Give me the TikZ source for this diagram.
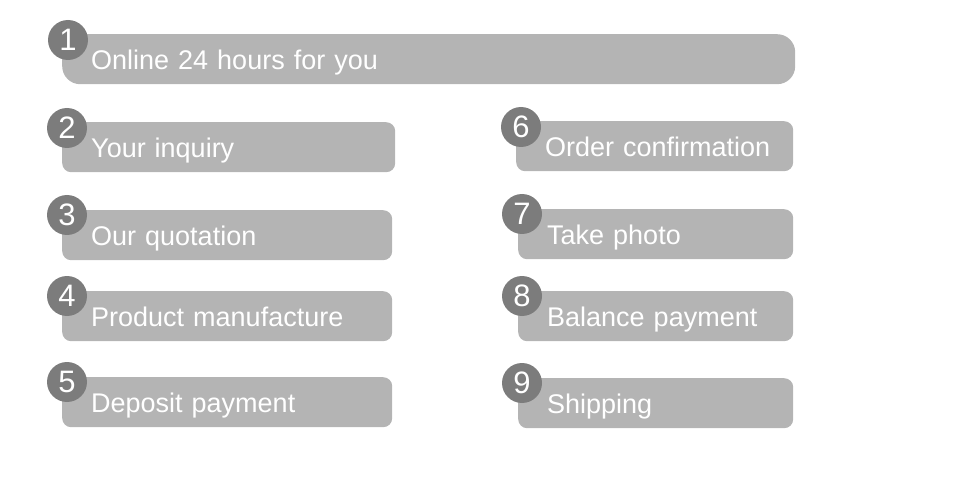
\documentclass[tikz,border=0pt]{standalone}
\usepackage{fontspec}
\setmainfont{Liberation Sans}
\definecolor{boxgray}{HTML}{B4B4B4}
\definecolor{numgray}{HTML}{7C7C7C}
\begin{document}
\begin{tikzpicture}[x=1pt,y=-1pt,
  stepbox/.style={fill=boxgray, rounded corners=9pt, minimum height=50pt, anchor=north west,
     inner xsep=29pt, inner ysep=0pt, align=left, text=white, text height=22.5pt, text depth=1.5pt,
     font=\fontsize{27}{27}\selectfont},
  numcirc/.style={circle, fill=numgray, minimum size=40pt, inner sep=0pt, text=white,
     font=\fontsize{31}{31}\selectfont}]
\useasboundingbox (0,0) rectangle (954,492);
\node[stepbox, rounded corners=18pt, text width=675pt] (b1) at (62,34) {\mbox{Online 24 hours for you}};
\node[stepbox, text width=275pt] (b2) at (62,122) {\mbox{Your inquiry}};
\node[stepbox, text width=272pt] (b3) at (62,210) {\mbox{Our quotation}};
\node[stepbox, text width=272pt] (b4) at (62,291) {\mbox{Product manufacture}};
\node[stepbox, text width=272pt] (b5) at (62,377) {\mbox{Deposit payment}};
\node[stepbox, text width=219pt] (b6) at (516,121) {\mbox{Order confirmation}};
\node[stepbox, text width=217pt] (b7) at (518,209) {\mbox{Take photo}};
\node[stepbox, text width=217pt] (b8) at (518,291) {\mbox{Balance payment}};
\node[stepbox, text width=217pt] (b9) at (518,378) {\mbox{Shipping}};
\node[numcirc] (c1) at (68,40) {1};
\node[numcirc] (c2) at (67,128) {2};
\node[numcirc] (c3) at (67,215) {3};
\node[numcirc] (c4) at (67,296) {4};
\node[numcirc] (c5) at (67,382) {5};
\node[numcirc] (c6) at (521,127) {6};
\node[numcirc] (c7) at (522,214) {7};
\node[numcirc] (c8) at (522,296) {8};
\node[numcirc] (c9) at (522,383) {9};
\end{tikzpicture}
\end{document}
